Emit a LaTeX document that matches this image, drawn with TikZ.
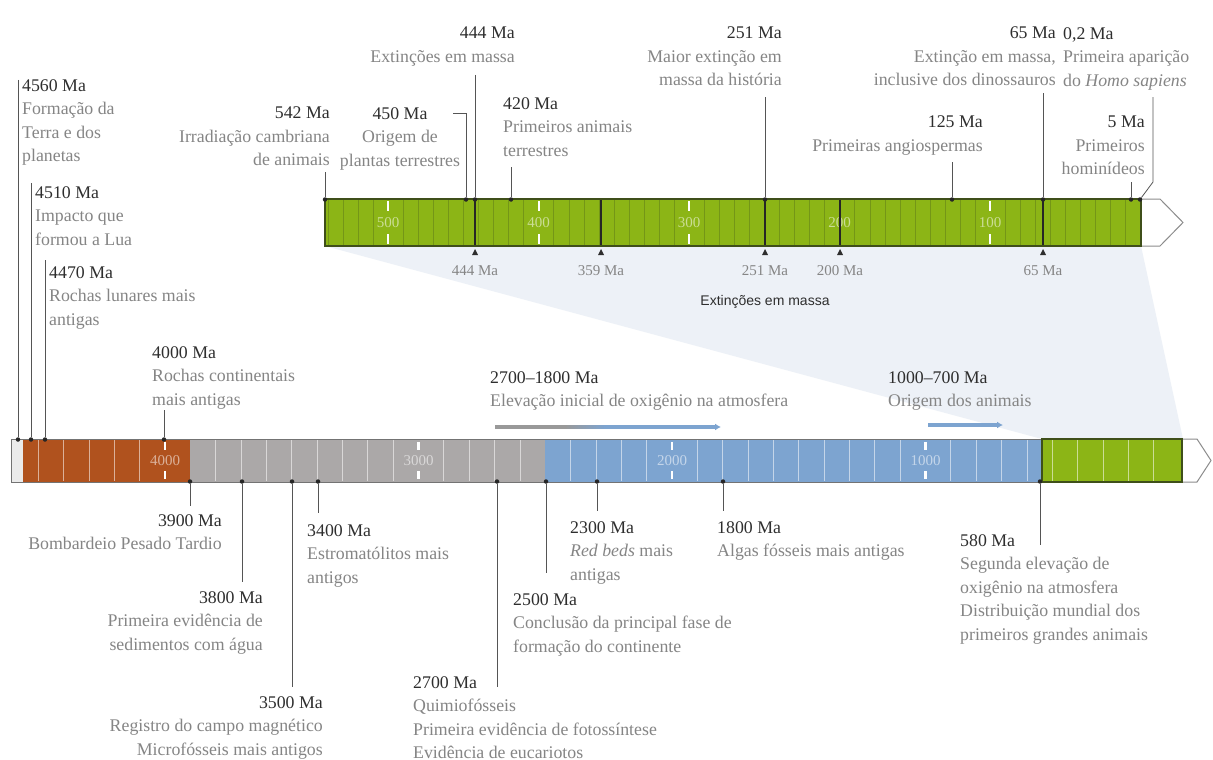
\documentclass[tikz,border=0pt]{standalone}
\usepackage{fontspec}
\setmainfont{Liberation Serif}
\setsansfont{Liberation Sans}
\usetikzlibrary{arrows.meta}
\definecolor{txt}{HTML}{858585}
\definecolor{lab}{HTML}{2E2E2E}
\definecolor{grn}{HTML}{8CB516}
\definecolor{grnd}{HTML}{3F4F1A}
\definecolor{brn}{HTML}{B0521E}
\definecolor{gry}{HTML}{ABA8A8}
\definecolor{blu}{HTML}{7DA4D0}
\definecolor{zoomc}{HTML}{EDF1F7}
\definecolor{leadc}{HTML}{555555}
\newcommand{\mlab}[1]{\textcolor{lab}{#1 Ma}}
\begin{document}
\begin{tikzpicture}[x=1pt,y=-1pt,
  lbl/.style={inner sep=0pt, text=txt, font=\fontsize{17.8}{23.5}\selectfont},
  dot/.style={circle, fill=black!85, inner sep=0pt, minimum size=4.5pt},
  leader/.style={draw=leadc, line width=0.8pt},
  xlab/.style={inner sep=0pt, text=txt, font=\fontsize{15}{18}\selectfont},
  barnum/.style={inner sep=0pt, text=white, text opacity=0.55, font=\fontsize{15}{18}\selectfont},
  stripe/.style={draw=white, draw opacity=0.55, line width=0.8pt},
  tstripe/.style={draw=grnd, draw opacity=0.3, line width=0.6pt},
  whitemark/.style={draw=white, line width=2.2pt},
  headc/.style={draw=black!45, line width=1pt, fill=white},
]
\useasboundingbox (0,0) rectangle (1213,760);
\fill[white] (0,0) rectangle (1213,760);

% ---------- zoom band ----------
\fill[zoomc] (325,246) -- (1141,246) -- (1183,439) -- (1042,439) -- cycle;

% ---------- top bar ----------
\draw[headc] (1141,199) -- (1160,199) -- (1183,222.5) -- (1160,246) -- (1141,246);
\fill[grn] (325,199) rectangle (1141,246);
\foreach \t in {540,530,...,10} {
  \pgfmathtruncatemacro\mm{mod(\t,100)}
  \pgfmathsetmacro\xx{325+(542-\t)*1.505}
  \ifnum\mm=0\relax\else
    \draw[tstripe] (\xx,200) -- (\xx,245);
  \fi
}
\foreach \t in {500,400,300,200,100} {
  \pgfmathsetmacro\xx{325+(542-\t)*1.505}
  \draw[whitemark] (\xx,201) -- (\xx,211);
  \draw[whitemark] (\xx,234) -- (\xx,244);
  \node[barnum] (m\t) at (\xx,222.5) {\t};
}
\foreach \t/\xx in {444/475,359/601,251/765,200/840,65/1043} {
  \draw[black!85, line width=1.4pt] (\xx,199) -- (\xx,246);
  \fill[lab] (\xx-3,255) -- (\xx+3,255) -- (\xx,249) -- cycle;
  \node[xlab] (e\t) at (\xx,271) {\t~Ma};
}
\draw[grnd, line width=1.6pt] (325,199) rectangle (1141,246);
\node[inner sep=0pt, text=lab, font=\sffamily\fontsize{14}{16}\selectfont] (extm) at (765,302) {Extinções em massa};

% ---------- bottom bar ----------
\draw[headc] (1182,439) -- (1197,439) -- (1211,460.5) -- (1197,482) -- (1182,482);
\fill[black!8] (11,439) rectangle (23,482);
\fill[brn] (23,439) rectangle (190,482);
\fill[gry] (190,439) rectangle (545,482);
\fill[blu] (545,439) rectangle (1042,482);
\fill[grn] (1042,439) rectangle (1182,482);
\foreach \k in {-5,...,39} {
  \pgfmathsetmacro\xx{165+25.35*\k}
  \ifnum\k=0\relax\else\ifnum\k=1\relax\else\ifnum\k=10\relax\else\ifnum\k=15\relax\else\ifnum\k=20\relax\else\ifnum\k=30\relax\else
    \draw[stripe] (\xx,440) -- (\xx,481);
  \fi\fi\fi\fi\fi\fi
}
\foreach \k/\v in {0/4000,10/3000,20/2000,30/1000} {
  \pgfmathsetmacro\xx{165+25.35*\k}
  \draw[whitemark] (\xx,442) -- (\xx,450);
  \draw[whitemark] (\xx,471) -- (\xx,479);
  \node[barnum] (n\v) at (\xx,460.5) {\v};
}
\draw[black!55, line width=1pt] (11,439) rectangle (1182,482);
\draw[grnd, line width=1.5pt] (1042,439) rectangle (1182,482);

% oxygen / animals range arrows
\coordinate (o1) at (495,427);
\coordinate (o2) at (565,427);
\coordinate (o3) at (605,427);
\coordinate (o4) at (721,427);
\draw[line width=3.5pt, black!40] (o1) -- (o2);
\shade[left color=black!40, right color=blu] (565,425.25) rectangle (605,428.75);
\draw[line width=3.5pt, blu, -{Latex[length=6pt,width=7pt]}] (o3) -- (o4);
\coordinate (a1) at (928,425);
\coordinate (a2) at (1003,425);
\draw[line width=3.5pt, blu, -{Latex[length=6pt,width=7pt]}] (a1) -- (a2);

% ---------- dots ----------
\node[dot] (t542) at (325,199.5) {};
\node[dot] (t450) at (466,199.5) {};
\node[dot] (t444) at (475,199.5) {};
\node[dot] (t420) at (511,199.5) {};
\node[dot] (t251) at (765,199.5) {};
\node[dot] (t125) at (952,199.5) {};
\node[dot] (t65) at (1043,199.5) {};
\node[dot] (t5) at (1131,199.5) {};
\node[dot] (t02) at (1140,199.5) {};

\node[dot] (b4560) at (18,439.5) {};
\node[dot] (b4510) at (31,439.5) {};
\node[dot] (b4470) at (45,439.5) {};
\node[dot] (b4000) at (164,439.5) {};
\node[dot] (b3900) at (190,481.5) {};
\node[dot] (b3800) at (242,481.5) {};
\node[dot] (b3500) at (292,481.5) {};
\node[dot] (b3400) at (318,481.5) {};
\node[dot] (b2700) at (497,481.5) {};
\node[dot] (b2500) at (546,481.5) {};
\node[dot] (b2300) at (597,481.5) {};
\node[dot] (b1800) at (723,481.5) {};
\node[dot] (b580) at (1040,481.5) {};

% ---------- leader ends ----------
\coordinate (c542) at (325,172);
\coordinate (c450a) at (453,113);
\coordinate (c450b) at (466,113);
\coordinate (c444) at (475,75);
\coordinate (c420) at (511,167);
\coordinate (c251) at (765,97);
\coordinate (c125) at (952,162);
\coordinate (c65) at (1043,93);
\coordinate (c02a) at (1153,97);
\coordinate (c02b) at (1153,182);
\coordinate (c5) at (1131,182);
\coordinate (c4560) at (18,80);
\coordinate (c4510) at (31,183);
\coordinate (c4470) at (45,260);
\coordinate (c4000) at (164,410);
\coordinate (c3900) at (190,506);
\coordinate (c3800) at (242,582);
\coordinate (c3500) at (292,687);
\coordinate (c3400) at (318,513);
\coordinate (c2700) at (497,687);
\coordinate (c2500) at (546,573);
\coordinate (c2300) at (597,511);
\coordinate (c1800) at (723,511);
\coordinate (c580) at (1040,545);

\draw[leader] (c542) -- (t542);
\draw[leader] (c450a) -- (c450b) -- (t450);
\draw[leader] (c444) -- (t444);
\draw[leader] (c420) -- (t420);
\draw[leader] (c251) -- (t251);
\draw[leader] (c125) -- (t125);
\draw[leader] (c65) -- (t65);
\draw[leader] (c02a) -- (c02b) -- (t02);
\draw[leader] (c5) -- (t5);
\draw[leader] (c4560) -- (b4560);
\draw[leader] (c4510) -- (b4510);
\draw[leader] (c4470) -- (b4470);
\draw[leader] (c4000) -- (b4000);
\draw[leader] (b3900) -- (c3900);
\draw[leader] (b3800) -- (c3800);
\draw[leader] (b3500) -- (c3500);
\draw[leader] (b3400) -- (c3400);
\draw[leader] (b2700) -- (c2700);
\draw[leader] (b2500) -- (c2500);
\draw[leader] (b2300) -- (c2300);
\draw[leader] (b1800) -- (c1800);
\draw[leader] (b580) -- (c580);

% ---------- labels: top ----------
\node[lbl, anchor=north west, align=left] (L4560) at (22,79) {\mlab{4560}\\Formação da\\Terra e dos\\planetas};
\node[lbl, anchor=north west, align=left] (L4510) at (35,186) {\mlab{4510}\\Impacto que\\formou a Lua};
\node[lbl, anchor=north west, align=left] (L4470) at (49,266) {\mlab{4470}\\Rochas lunares mais\\antigas};
\node[lbl, anchor=north west, align=left] (L4000) at (152,346) {\mlab{4000}\\Rochas continentais\\mais antigas};
\node[lbl, anchor=north east, align=right] (L542) at (330,107) {\mlab{542}\\Irradiação cambriana\\de animais};
\node[lbl, anchor=north, align=center] (L450) at (400,107) {\mlab{450}\\Origem de\\plantas terrestres};
\node[lbl, anchor=north east, align=right] (L444) at (515,27) {\mlab{444}\\Extinções em massa};
\node[lbl, anchor=north west, align=left] (L420) at (503,97) {\mlab{420}\\Primeiros animais\\terrestres};
\node[lbl, anchor=north east, align=right] (L251) at (782,27) {\mlab{251}\\Maior extinção em\\massa da história};
\node[lbl, anchor=north east, align=right] (L125) at (983,116) {\mlab{125}\\Primeiras angiospermas};
\node[lbl, anchor=north east, align=right] (L65) at (1056,27) {\mlab{65}\\Extinção em massa,\\inclusive dos dinossauros};
\node[lbl, anchor=north west, align=left] (L02) at (1063,27) {\mlab{0,2}\\Primeira aparição\\do \textit{Homo sapiens}};
\node[lbl, anchor=north east, align=right] (L5) at (1145,116) {\mlab{5}\\Primeiros\\hominídeos};
\node[lbl, anchor=north west, align=left] (L2718) at (490,371) {\mlab{2700–1800}\\Elevação inicial de oxigênio na atmosfera};
\node[lbl, anchor=north west, align=left] (L1007) at (888,371) {\mlab{1000–700}\\Origem dos animais};

% ---------- labels: bottom ----------
\node[lbl, anchor=north east, align=right] (L3900) at (222,514) {\mlab{3900}\\Bombardeio Pesado Tardio};
\node[lbl, anchor=north east, align=right] (L3800) at (263,591) {\mlab{3800}\\Primeira evidência de\\sedimentos com água};
\node[lbl, anchor=north east, align=right] (L3500) at (323,696) {\mlab{3500}\\Registro do campo magnético\\Microfósseis mais antigos};
\node[lbl, anchor=north west, align=left] (L3400) at (307,524) {\mlab{3400}\\Estromatólitos mais\\antigos};
\node[lbl, anchor=north west, align=left] (L2700) at (413,676) {\mlab{2700}\\Quimiofósseis\\Primeira evidência de fotossíntese\\Evidência de eucariotos};
\node[lbl, anchor=north west, align=left] (L2500) at (513,593) {\mlab{2500}\\Conclusão da principal fase de\\formação do continente};
\node[lbl, anchor=north west, align=left] (L2300) at (570,521) {\mlab{2300}\\\textit{Red beds} mais\\antigas};
\node[lbl, anchor=north west, align=left] (L1800) at (717,521) {\mlab{1800}\\Algas fósseis mais antigas};
\node[lbl, anchor=north west, align=left] (L580) at (960,534) {\mlab{580}\\Segunda elevação de\\oxigênio na atmosfera\\Distribuição mundial dos\\primeiros grandes animais};
\end{tikzpicture}
\end{document}
